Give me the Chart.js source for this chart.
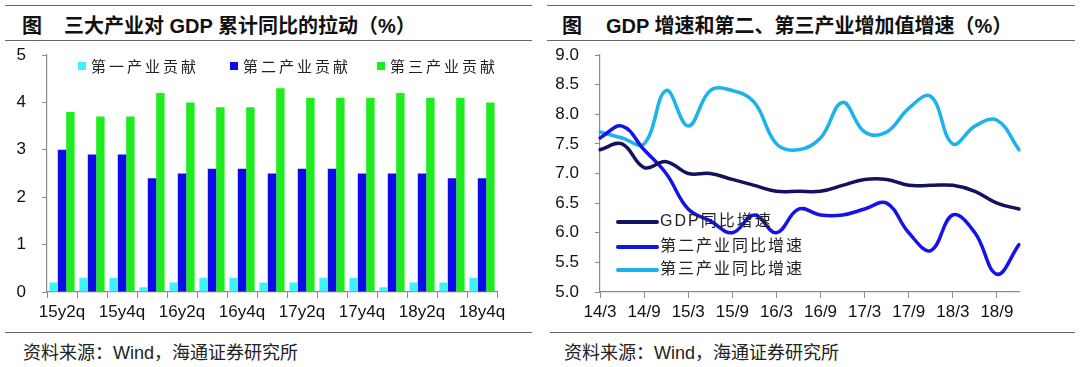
<!DOCTYPE html>
<html>
<head>
<meta charset="utf-8">
<script src="https://cdn.jsdelivr.net/npm/chart.js@4"></script>
<style>
  body { margin: 0; background: #fff; width: 1080px; height: 367px; overflow: hidden; position: relative;
         font-family: "Liberation Sans", "Noto Sans CJK SC", sans-serif; }
  .rule { position: absolute; height: 0; border-top: 1.5px solid #666; }
  .title { position: absolute; top: 10px; font-size: 20px; font-weight: bold; color: #111; white-space: nowrap; }
  .title span { position: absolute; top: 0; }
  .src { position: absolute; top: 338px; font-size: 18px; color: #222; white-space: nowrap; }
  .box { position: absolute; }
</style>
</head>
<body>
<div class="rule" style="left:5px;width:527px;top:5px"></div>
<div class="rule" style="left:5px;width:527px;top:40px"></div>
<div class="rule" style="left:5px;width:527px;top:332px"></div>
<div class="rule" style="left:547px;width:528px;top:5px"></div>
<div class="rule" style="left:547px;width:528px;top:40px"></div>
<div class="rule" style="left:550px;width:525px;top:332px"></div>

<div class="title" style="left:0"><span style="left:22px">图</span><span style="left:64px">三大产业对 GDP 累计同比的拉动（%）</span></div>
<div class="title" style="left:0"><span style="left:562px">图</span><span style="left:606px">GDP 增速和第二、第三产业增加值增速（%）</span></div>

<div class="src" style="left:23px">资料来源：Wind，海通证券研究所</div>
<div class="src" style="left:564px">资料来源：Wind，海通证券研究所</div>

<div class="box" style="left:0;top:40px;width:530px;height:290px"><canvas id="lagong"></canvas></div>
<div class="box" style="left:545px;top:40px;width:500px;height:290px"><canvas id="zengsu"></canvas></div>

<script>
// linkes Diagramm: Beitrag der drei Sektoren
const quartale = ["15y2q", "15y3q", "15y4q", "16y1q", "16y2q", "16y3q", "16y4q", "17y1q",
                  "17y2q", "17y3q", "17y4q", "18y1q", "18y2q", "18y3q", "18y4q"];
const primaer = [0.2, 0.3, 0.3, 0.1, 0.2, 0.3, 0.3, 0.2, 0.2, 0.3, 0.3, 0.1, 0.2, 0.2, 0.3];
const sekundaer = [3.0, 2.9, 2.9, 2.4, 2.5, 2.6, 2.6, 2.5, 2.6, 2.6, 2.5, 2.5, 2.5, 2.4, 2.4];
const tertiaer = [3.8, 3.7, 3.7, 4.2, 4.0, 3.9, 3.9, 4.3, 4.1, 4.1, 4.1, 4.2, 4.1, 4.1, 4.0];
const balkenNamen = ["第一产业贡献", "第二产业贡献", "第三产业贡献"];
const balkenTicks = [0, 1, 2, 3, 4, 5];

// rechtes Diagramm: Wachstumsraten
const monate = ["14/3", "14/6", "14/9", "14/12", "15/3", "15/6", "15/9", "15/12", "16/3", "16/6",
                "16/9", "16/12", "17/3", "17/6", "17/9", "17/12", "18/3", "18/6", "18/9", "18/12"];
const gdpWachstum = [7.4, 7.5, 7.1, 7.2, 7.0, 7.0, 6.9, 6.8, 6.7, 6.7, 6.7, 6.8, 6.9, 6.9, 6.8, 6.8, 6.8, 6.7, 6.5, 6.4];
const zweiterSektor = [7.6, 7.8, 7.4, 7.0, 6.4, 6.2, 6.0, 6.3, 6.0, 6.4, 6.3, 6.3, 6.4, 6.5, 6.0, 5.7, 6.3, 6.0, 5.3, 5.8];
const dritterSektor = [7.7, 7.6, 7.5, 8.4, 7.8, 8.4, 8.4, 8.2, 7.5, 7.4, 7.6, 8.2, 7.7, 7.7, 8.1, 8.3, 7.5, 7.8, 7.9, 7.4];
const linienNamen = ["GDP同比增速", "第二产业同比增速", "第三产业同比增速"];

const achsenFarbe = "#8a8a8a";
const tickSchrift = { family: "'Liberation Sans', Arial, sans-serif", size: 17 };

// y-Achse: feste Breite, kein zusaetzlicher Rand oben/unten
const yFix = (breite) => (s) => {
    s.width = breite;
    s.paddingTop = 0;
    s.paddingBottom = 0;
};

const balkenLegende = {
    id: "balkenLegende",
    afterDraw(chart) {
        const ctx = chart.ctx;
        const a = chart.chartArea;
        const xs = [31, 183, 330];
        ctx.save();
        ctx.font = "15px 'Noto Sans CJK SC'";
        ctx.letterSpacing = "3px";
        ctx.textBaseline = "middle";
        chart.data.datasets.forEach((ds, i) => {
            const x = a.left + xs[i];
            const y = a.top + 11;
            ctx.fillStyle = ds.backgroundColor;
            ctx.fillRect(x, y - 4, 8, 8);
            ctx.fillStyle = "#222";
            ctx.fillText(ds.label, x + 13, y);
        });
        ctx.restore();
    },
};

const linienLegende = {
    id: "linienLegende",
    afterDraw(chart) {
        const ctx = chart.ctx;
        const a = chart.chartArea;
        const ys = [70, 45, 22];
        ctx.save();
        ctx.textBaseline = "middle";
        chart.data.datasets.forEach((ds, i) => {
            const y = a.bottom - ys[i];
            ctx.strokeStyle = ds.borderColor;
            ctx.lineWidth = 4;
            ctx.lineCap = "round";
            ctx.beginPath();
            ctx.moveTo(a.left + 18, y);
            ctx.lineTo(a.left + 57, y);
            ctx.stroke();
            ctx.fillStyle = "#222";
            ctx.font = "16px 'Liberation Sans', 'Noto Sans CJK SC'";
            ctx.letterSpacing = "2px";
            ctx.fillText(ds.label, a.left + 60, y);
        });
        ctx.restore();
    },
};

new Chart(document.getElementById("lagong"), {
    type: "bar",
    data: {
        labels: quartale,
        datasets: [
            { label: balkenNamen[0], data: primaer, backgroundColor: "#3ff2f8" },
            { label: balkenNamen[1], data: sekundaer, backgroundColor: "#0c0ce8" },
            { label: balkenNamen[2], data: tertiaer, backgroundColor: "#1eec1e" },
        ],
    },
    options: {
        responsive: true,
        maintainAspectRatio: false,
        animation: false,
        layout: { padding: { top: 15, right: 33, left: 0, bottom: 0 } },
        datasets: { bar: { categoryPercentage: 0.84, barPercentage: 1.0 } },
        plugins: { legend: { display: false }, tooltip: { enabled: false } },
        scales: {
            x: {
                afterFit: (s) => { s.height = 38; },
                grid: { drawOnChartArea: false, tickLength: 6, tickColor: achsenFarbe },
                border: { color: achsenFarbe, width: 1.2 },
                ticks: {
                    autoSkip: false, maxRotation: 0, padding: 4, color: "#111", font: tickSchrift,
                    callback: (v, i) => (i % 2 === 0 ? quartale[i] : ""),
                },
            },
            y: {
                min: balkenTicks[0],
                max: balkenTicks[balkenTicks.length - 1],
                afterFit: yFix(47),
                grid: { drawOnChartArea: false, tickLength: 5, tickColor: achsenFarbe },
                border: { color: achsenFarbe, width: 1.2 },
                ticks: { stepSize: 1, padding: 16, color: "#111", font: tickSchrift },
            },
        },
    },
    plugins: [balkenLegende],
});

new Chart(document.getElementById("zengsu"), {
    type: "line",
    data: {
        labels: monate,
        datasets: [
            { label: linienNamen[0], data: gdpWachstum, borderColor: "#12125e" },
            { label: linienNamen[1], data: zweiterSektor, borderColor: "#1414e6" },
            { label: linienNamen[2], data: dritterSektor, borderColor: "#1cb2ea" },
        ],
    },
    options: {
        responsive: true,
        maintainAspectRatio: false,
        animation: false,
        layout: { padding: { top: 15, right: 26, left: 0, bottom: 0 } },
        elements: {
            line: { borderWidth: 3.5, tension: 0.4, borderCapStyle: "round" },
            point: { radius: 0 },
        },
        plugins: { legend: { display: false }, tooltip: { enabled: false } },
        scales: {
            x: {
                afterFit: (s) => { s.height = 38; },
                grid: {
                    drawOnChartArea: false,
                    tickLength: 6,
                    tickColor: (c) => (c.index % 2 === 0 ? achsenFarbe : "rgba(0,0,0,0)"),
                },
                border: { color: achsenFarbe, width: 1.2 },
                ticks: {
                    autoSkip: false, maxRotation: 0, padding: 4, color: "#111", font: tickSchrift,
                    callback: (v, i) => (i % 2 === 0 ? monate[i] : ""),
                },
            },
            y: {
                min: 5,
                max: 9,
                afterFit: yFix(55),
                grid: { drawOnChartArea: false, tickLength: 5, tickColor: achsenFarbe },
                border: { color: achsenFarbe, width: 1.2 },
                ticks: { stepSize: 0.5, padding: 16, color: "#111", font: tickSchrift,
                         callback: (v) => v.toFixed(1) },
            },
        },
    },
    plugins: [linienLegende],
});
</script>
</body>
</html>
